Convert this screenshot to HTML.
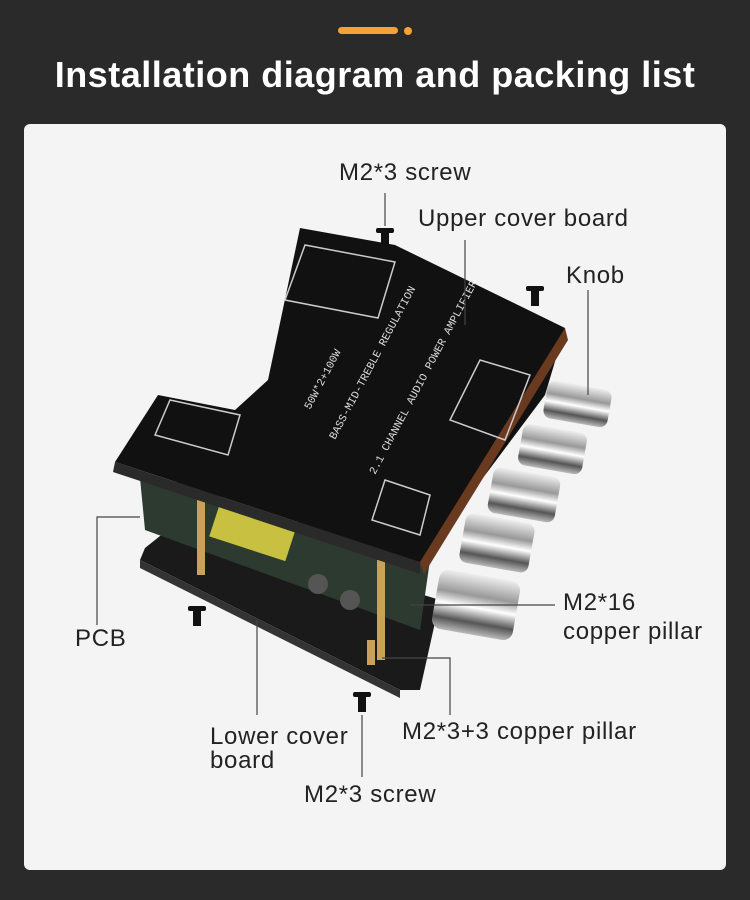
<!DOCTYPE html>
<html><head><meta charset="utf-8"><style>
html,body{margin:0;padding:0;}
body{width:750px;height:900px;background:#2a2a2a;position:relative;overflow:hidden;font-family:"Liberation Sans",sans-serif;}
.bar{position:absolute;left:338px;top:27px;width:60px;height:7px;border-radius:4px;background:#f5a13a;}
.dot{position:absolute;left:404px;top:27px;width:8px;height:8px;border-radius:50%;background:#f5a13a;}
h1{position:absolute;left:0;width:750px;top:54px;margin:0;text-align:center;color:#fff;font-size:36px;font-weight:bold;letter-spacing:0.5px;}
.panel{position:absolute;left:24px;top:124px;width:702px;height:746px;background:#f4f4f4;border-radius:6px;}
svg{position:absolute;left:0;top:0;}
.t{font-family:"Liberation Sans",sans-serif;font-size:24px;fill:#222;letter-spacing:0.7px;}
</style></head><body>
<div class="bar"></div><div class="dot"></div>
<h1>Installation diagram and packing list</h1>
<div class="panel"></div>
<svg width="750" height="900" viewBox="0 0 750 900">
<defs>
<linearGradient id="k" x1="0" y1="0" x2="0" y2="1">
<stop offset="0" stop-color="#eee"/><stop offset="0.35" stop-color="#999"/><stop offset="0.55" stop-color="#fff"/><stop offset="0.8" stop-color="#555"/><stop offset="1" stop-color="#bbb"/>
</linearGradient>
</defs>
<polygon points="145,548 180,520 440,600 420,690 400,690 140,560" fill="#1a1a1a"/>
<polygon points="140,560 400,690 400,698 140,568" fill="#333"/>
<polygon points="140,478 200,485 430,560 420,630 145,530" fill="#2c3a30"/>
<rect x="215" y="500" width="80" height="50" fill="#c8c040" transform="rotate(18 255 525)"/>
<circle cx="318" cy="584" r="10" fill="#555"/><circle cx="350" cy="600" r="10" fill="#555"/>
<rect x="197" y="495" width="8" height="80" fill="#c9a25a"/>
<rect x="377" y="560" width="8" height="100" fill="#c9a25a"/>
<rect x="367" y="640" width="8" height="25" fill="#c9a25a"/>
<polygon points="158,395 235,410 268,380 300,228 395,245 565,328 545,395 420,562 115,462" fill="#111"/>
<polygon points="115,462 420,562 420,574 113,472" fill="#2a2a2a"/>
<polygon points="420,562 565,328 568,340 424,574" fill="#6a3a20"/>
<g stroke="#ccc" stroke-width="1.5" fill="none">
<polygon points="285,300 305,245 395,262 378,318"/>
<polygon points="155,435 170,400 240,415 228,455"/>
<polygon points="450,420 480,360 530,375 505,440"/>
<polygon points="372,520 385,480 430,495 420,535"/>
</g>
<g fill="#ddd" font-size="11" font-family="Liberation Mono,monospace">
<text x="0" y="0" transform="translate(335,440) rotate(-62)">BASS-MID-TREBLE REGULATION</text>
<text x="0" y="0" transform="translate(375,475) rotate(-62)">2.1 CHANNEL AUDIO POWER AMPLIFIER</text>
<text x="0" y="0" transform="translate(310,410) rotate(-62)">50W*2+100W</text>
</g>
<g>
<rect x="545" y="385" width="65" height="38" rx="8" fill="url(#k)" transform="rotate(10 577 404)"/>
<rect x="520" y="428" width="65" height="42" rx="8" fill="url(#k)" transform="rotate(10 552 449)"/>
<rect x="490" y="472" width="68" height="46" rx="8" fill="url(#k)" transform="rotate(10 524 495)"/>
<rect x="462" y="518" width="70" height="50" rx="8" fill="url(#k)" transform="rotate(10 497 543)"/>
<rect x="435" y="575" width="82" height="60" rx="10" fill="url(#k)" transform="rotate(10 476 605)"/>
</g>
<g fill="#111">
<rect x="381" y="230" width="8" height="20"/><rect x="376" y="228" width="18" height="5" rx="2"/>
<rect x="531" y="288" width="8" height="18"/><rect x="526" y="286" width="18" height="5" rx="2"/>
<rect x="193" y="608" width="8" height="18"/><rect x="188" y="606" width="18" height="5" rx="2"/>
<rect x="358" y="694" width="8" height="18"/><rect x="353" y="692" width="18" height="5" rx="2"/>
</g>
<g stroke="#444" stroke-width="1.2" fill="none">
<line x1="385" y1="193" x2="385" y2="226"/>
<line x1="465" y1="240" x2="465" y2="325"/>
<line x1="588" y1="290" x2="588" y2="395"/>
<polyline points="140,517 97,517 97,625"/>
<line x1="410" y1="605" x2="555" y2="605"/>
<polyline points="382,658 450,658 450,715"/>
<line x1="257" y1="620" x2="257" y2="715"/>
<line x1="362" y1="715" x2="362" y2="777"/>
</g>
<text class="t" x="339" y="180">M2*3 screw</text>
<text class="t" x="418" y="226">Upper cover board</text>
<text class="t" x="566" y="283">Knob</text>
<text class="t" x="75" y="646">PCB</text>
<text class="t" x="563" y="610">M2*16</text>
<text class="t" x="563" y="639">copper pillar</text>
<text class="t" x="402" y="739">M2*3+3 copper pillar</text>
<text class="t" x="210" y="744">Lower cover</text>
<text class="t" x="210" y="768">board</text>
<text class="t" x="304" y="802">M2*3 screw</text>
</svg>
</body></html>
